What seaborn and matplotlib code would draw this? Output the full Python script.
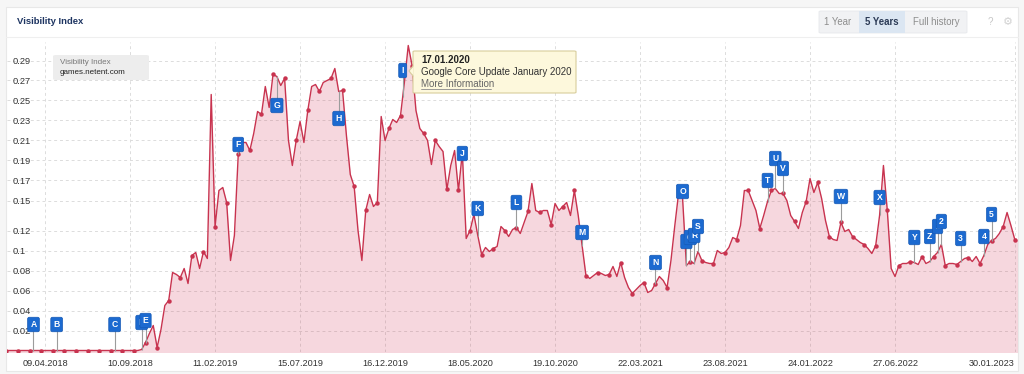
import numpy as np
import pandas as pd
import matplotlib
matplotlib.use("Agg")
import matplotlib.pyplot as plt
import matplotlib.dates as mdates
from matplotlib.patches import FancyBboxPatch, Rectangle, Polygon
from matplotlib.lines import Line2D
import seaborn as sns

# ---------------- data ----------------
start_week = "2018-01-29"   # weekly series (Mondays)
visibility = (
    [0.0] * 35 + [
    0.001, 0.008, 0.017, 0.025, 0.003, 0.021, 0.045, 0.050, 0.078, 0.076,
    0.073, 0.082, 0.067, 0.095, 0.098, 0.082, 0.099, 0.092, 0.256, 0.124,
    0.160, 0.163, 0.148, 0.090, 0.115, 0.196, 0.208, 0.208, 0.200, 0.217,
    0.239, 0.236, 0.264, 0.243, 0.276, 0.274, 0.265, 0.272, 0.210, 0.185,
    0.210, 0.229, 0.208, 0.240, 0.264, 0.266, 0.259, 0.268, 0.270, 0.272,
    0.282, 0.259, 0.260, 0.215, 0.176, 0.164, 0.120, 0.090, 0.140, 0.156,
    0.144, 0.148, 0.234, 0.210, 0.222, 0.231, 0.228, 0.235, 0.268, 0.305,
    0.285, 0.240, 0.222, 0.217, 0.210, 0.186, 0.210, 0.204, 0.199, 0.161,
    0.185, 0.200, 0.160, 0.198, 0.112, 0.120, 0.136, 0.115, 0.096, 0.103,
    0.099, 0.102, 0.104, 0.124, 0.120, 0.114, 0.121, 0.123, 0.117, 0.128,
    0.139, 0.167, 0.140, 0.138, 0.140, 0.140, 0.126, 0.147, 0.140, 0.144,
    0.148, 0.135, 0.160, 0.135, 0.105, 0.075, 0.072, 0.075, 0.078, 0.077,
    0.075, 0.076, 0.084, 0.074, 0.088, 0.073, 0.063, 0.057, 0.061, 0.065,
    0.068, 0.058, 0.060, 0.067, 0.074, 0.070, 0.063, 0.090, 0.125, 0.158,
    0.153, 0.085, 0.089, 0.087, 0.099, 0.090, 0.088, 0.087, 0.087, 0.100,
    0.097, 0.098, 0.103, 0.113, 0.111, 0.125, 0.160, 0.160, 0.150, 0.140,
    0.122, 0.135, 0.149, 0.160, 0.162, 0.157, 0.157, 0.150, 0.135, 0.129,
    0.122, 0.138, 0.149, 0.172, 0.158, 0.168, 0.152, 0.130, 0.114, 0.111,
    0.110, 0.128, 0.119, 0.121, 0.114, 0.111, 0.108, 0.106, 0.102, 0.097,
    0.105, 0.135, 0.185, 0.140, 0.082, 0.074, 0.085, 0.087, 0.087, 0.089,
    0.088, 0.086, 0.094, 0.087, 0.089, 0.094, 0.098, 0.106, 0.085, 0.087,
    0.087, 0.086, 0.089, 0.092, 0.093, 0.089, 0.094, 0.087, 0.095, 0.106,
    0.110, 0.112, 0.117, 0.124, 0.138, 0.125, 0.111, 0.111,
])

tick_dates = ["2018-04-09", "2018-09-10", "2019-02-11", "2019-07-15", "2019-12-16",
              "2020-05-18", "2020-10-19", "2021-03-22", "2021-08-23", "2022-01-24",
              "2022-06-27", "2023-01-30"]
tick_labels = ["09.04.2018", "10.09.2018", "11.02.2019", "15.07.2019", "16.12.2019",
               "18.05.2020", "19.10.2020", "22.03.2021", "23.08.2021", "24.01.2022",
               "27.06.2022", "30.01.2023"]
y_ticks = [0.02, 0.04, 0.06, 0.08, 0.10, 0.12, 0.15, 0.17, 0.19, 0.21, 0.23, 0.25, 0.27, 0.29]
y_tick_labels = ["0.02", "0.04", "0.06", "0.08", "0.1", "0.12", "0.15", "0.17",
                 "0.19", "0.21", "0.23", "0.25", "0.27", "0.29"]

flag_labels = ["A", "B", "C", "D", "E", "F", "G", "H", "I", "J", "K", "L", "M", "N", "O",
               "P", "Q", "R", "S", "T", "U", "V", "W", "X", "Y", "Z", "1", "2", "3", "4", "5"]
flag_dates = ["2018-03-19", "2018-04-30", "2018-08-13", "2018-10-01", "2018-10-08",
              "2019-03-25", "2019-06-03", "2019-09-23", "2020-01-17", "2020-05-04",
              "2020-06-01", "2020-08-10", "2020-12-07", "2021-04-19", "2021-06-07",
              "2021-06-14", "2021-06-21", "2021-06-28", "2021-07-05", "2021-11-08",
              "2021-11-22", "2021-12-06", "2022-03-21", "2022-05-30", "2022-08-01",
              "2022-08-29", "2022-09-12", "2022-09-19", "2022-10-24", "2022-12-05",
              "2022-12-19"]
flag_levels = [0.026, 0.026, 0.026, 0.028, 0.030,
               0.206, 0.245, 0.232, 0.280, 0.197,
               0.142, 0.148, 0.118, 0.088, 0.159,
               0.109, 0.113, 0.115, 0.124, 0.170,
               0.192, 0.182, 0.154, 0.153, 0.113,
               0.114, 0.124, 0.129, 0.112, 0.114,
               0.136]

tooltip_date = "17.01.2020"
tooltip_text = "Google Core Update January 2020"
tooltip_link = "More Information"
panel_title = "Visibility Index"
legend_title = "Visibility Index"
legend_domain = "games.netent.com"
range_buttons = ["1 Year", "5 Years", "Full history"]

# ---------------- style ----------------
sns.set_theme(style="white")
plt.rcParams["font.family"] = ["Liberation Sans", "DejaVu Sans"]

LINE = "#c8334f"
FILL = "#d23a5a"
FLAG = "#1c6ad0"
GRID = "#dcdcdc"

W, H = 1024, 374
fig = plt.figure(figsize=(W / 100, H / 100), dpi=100, facecolor="#f6f6f6")


def fx(px):
    return px / W


def fy(py):
    return 1 - py / H


# card
fig.add_artist(Rectangle((fx(6), fy(371)), fx(1018) - fx(6), fy(7) - fy(371),
                         transform=fig.transFigure, fc="white", ec="#e8e8e8",
                         lw=0.8, zorder=-5))
fig.add_artist(Line2D([fx(6), fx(1018)], [fy(37), fy(37)], transform=fig.transFigure,
                      color="#efefef", lw=0.8, zorder=-4))
fig.text(fx(17), fy(22), panel_title, fontsize=6.8, fontweight="bold",
         color="#1d3461", va="center", ha="left")

# range buttons
fig.add_artist(FancyBboxPatch((fx(819), fy(33)), fx(967) - fx(819), fy(11) - fy(33),
                              boxstyle="round,pad=0,rounding_size=0.002",
                              transform=fig.transFigure, fc="#f1f2f4", ec="#e6e8eb",
                              lw=0.6, zorder=1))
fig.add_artist(Rectangle((fx(859), fy(33)), fx(905) - fx(859), fy(11) - fy(33),
                         transform=fig.transFigure, fc="#dbe6f2", ec="none", zorder=1.5))
btn_x = [838, 882, 936]
for i, (lbl, bx) in enumerate(zip(range_buttons, btn_x)):
    sel = i == 1
    fig.text(fx(bx), fy(22), lbl, fontsize=6.9, ha="center", va="center",
             fontweight="bold" if sel else "normal",
             color="#2b3a55" if sel else "#8d8d8d", zorder=3)
fig.text(fx(990), fy(22), "?", fontsize=7, ha="center", va="center", color="#c6c6c6")
fig.text(fx(1008), fy(22), "\u2699", fontsize=8, ha="center", va="center",
         color="#d2d2d2", family=["DejaVu Sans"])

# ---------------- chart ----------------
ax = fig.add_axes([fx(7), fy(352), (1017 - 7) / W, 310 / H])
ax.set_facecolor("none")

dates = pd.date_range(start_week, periods=len(visibility), freq="7D")
df = pd.DataFrame({"date": dates, "value": visibility})

ax.fill_between(df["date"], df["value"], -0.01, color=FILL, alpha=0.2, lw=0, zorder=1)
sns.lineplot(data=df, x="date", y="value", ax=ax, color=LINE, lw=1.0,
             marker="o", markersize=3.2, markeredgewidth=0, markevery=3, zorder=2)

ax.set_xlim(pd.Timestamp("2018-01-30"), pd.Timestamp("2023-02-03"))
ax.set_ylim(-0.0015, 0.3085)

ax.set_yticks(y_ticks)
ax.set_yticklabels(y_tick_labels)
ax.set_xticks(pd.to_datetime(tick_dates))
ax.set_xticklabels(tick_labels)
ax.set_axisbelow(True)
ax.grid(True, axis="both", color=GRID, lw=0.7, ls=(0, (3, 3)))
ax.tick_params(axis="y", length=0, pad=-4, labelsize=6.7, labelcolor="#333333")
for t in ax.get_yticklabels():
    t.set_horizontalalignment("left")
ax.tick_params(axis="x", length=0, pad=5, labelsize=6.6, labelcolor="#333333")
ax.get_xticklabels()[-1].set_horizontalalignment("right")
ax.set_xlabel("")
ax.set_ylabel("")
for s in ax.spines.values():
    s.set_visible(False)

# event flags
date_num = mdates.date2num(df["date"])
for lab, d, lev in zip(flag_labels, flag_dates, flag_levels):
    t = pd.Timestamp(d)
    v = np.interp(mdates.date2num(t), date_num, df["value"])
    ax.vlines(t, min(v, lev), max(v, lev), color="#9c9c9c", lw=0.8, zorder=3)
    ax.text(t, lev, lab, ha="center", va="center", color="white", fontsize=6.2,
            fontweight="bold", zorder=4,
            bbox=dict(boxstyle="round,pad=0.32,rounding_size=0.2", fc=FLAG,
                      ec="#1559b5", lw=0.5))

# legend label box
fig.add_artist(FancyBboxPatch((fx(53), fy(80)), fx(149) - fx(53), fy(55) - fy(80),
                              boxstyle="round,pad=0,rounding_size=0.003",
                              transform=fig.transFigure, fc="#ededed", ec="none", zorder=5))
fig.text(fx(60), fy(62), legend_title, fontsize=5.8, color="#777777", va="center", zorder=6)
fig.text(fx(60), fy(73), legend_domain, fontsize=5.8, color="#222222", va="center", zorder=6)

# tooltip
fig.add_artist(FancyBboxPatch((fx(413), fy(93)), fx(576) - fx(413), fy(51) - fy(93),
                              boxstyle="round,pad=0,rounding_size=0.002",
                              transform=fig.transFigure, fc="#fdf8dc", ec="#d8cd9c",
                              lw=0.8, zorder=10))
fig.add_artist(Polygon([(fx(413.6), fy(66)), (fx(409), fy(71)), (fx(413.6), fy(76))],
                       closed=True, transform=fig.transFigure, fc="#fdf8dc",
                       ec="none", zorder=11))
fig.add_artist(Line2D([fx(413), fx(409), fx(413)], [fy(66), fy(71), fy(76)],
                      transform=fig.transFigure, color="#d8cd9c", lw=0.8, zorder=11))
fig.text(fx(421), fy(60), tooltip_date, fontsize=7, fontweight="bold", color="#222222",
         va="center", zorder=12)
fig.text(fx(421), fy(72), tooltip_text, fontsize=7, color="#333333", va="center", zorder=12)
fig.text(fx(421), fy(84), tooltip_link, fontsize=7, color="#666666", va="center", zorder=12)
fig.add_artist(Line2D([fx(421), fx(491)], [fy(89), fy(89)], transform=fig.transFigure,
                      color="#8a8a8a", lw=0.6, zorder=12))

fig.savefig("out.png", dpi=100, facecolor=fig.get_facecolor())
